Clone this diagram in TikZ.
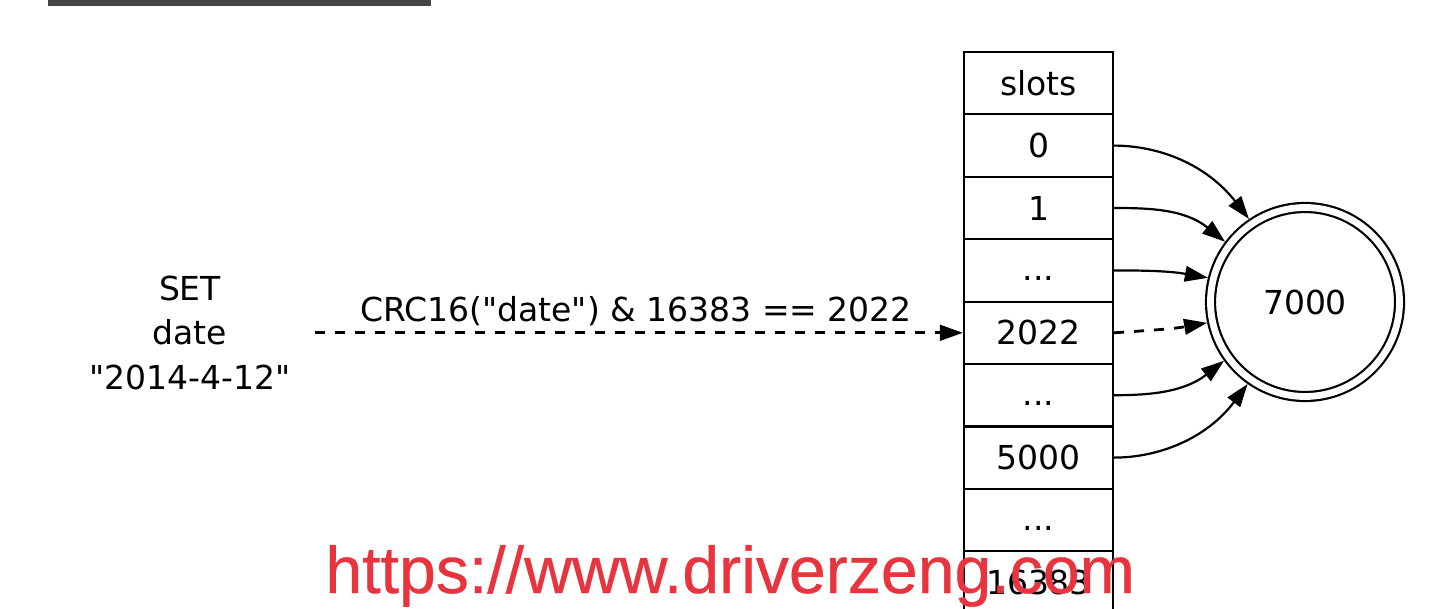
\documentclass[tikz,border=0pt]{standalone}
\usepackage{graphicx}
\usepackage{fontspec}
\setmainfont{DejaVu Sans}[Ligatures=TeXOff]
\newfontfamily\wmfont{Liberation Sans}[FakeBold=0.5]
\usetikzlibrary{arrows.meta}
\definecolor{wmred}{RGB}{232,52,62}
\definecolor{bargray}{RGB}{68,68,68}
\newcommand{\dq}{\char34\relax}
\newcommand{\dotsrow}{\raisebox{0.8pt}{...}\vphantom{0}}
\begin{document}
\begin{tikzpicture}[x=0.5pt,y=0.5pt,
  txt/.style={font=\fontsize{16.5}{22.3}\selectfont},
  slot/.style={txt,draw,line width=1.1pt,minimum width=74.5pt,minimum height=31.2pt,inner sep=0pt},
  link/.style={line width=1.1pt,-{Triangle[length=11.5pt,width=7.8pt]}},
  dlink/.style={link,line width=1.4pt,dash pattern=on 5pt off 5pt},
  curvy/.style={out looseness=0.75,in looseness=1.15}]
\useasboundingbox (0,0) rectangle (1454,-609);
\clip (0,0) rectangle (1454,-609);
\fill[bargray] (48,0) rectangle (431,-6);
% slot table
\node[slot] (r0) at (1038.5,-83.2) {slots};
\node[slot] (r1) at (1038.5,-145.6) {0};
\node[slot] (r2) at (1038.5,-208) {1};
\node[slot] (r3) at (1038.5,-270.4) {\dotsrow};
\node[slot] (r4) at (1038.5,-332.8) {2022};
\node[slot] (r5) at (1038.5,-395.2) {\dotsrow};
\node[slot] (r6) at (1038.5,-457.6) {5000};
\node[slot] (r7) at (1038.5,-520) {\dotsrow};
\node[slot] (r8) at (1038.5,-582.4) {16383};
% node 7000
\node[txt,draw,circle,double,double distance=3.4pt,line width=1.1pt,minimum size=94.5pt,inner sep=0pt,outer sep=2.8pt] (c) at (1305,-302) {7000};
\draw[link,curvy] (r1.east) to[out=0,in=128] (c.124);
\draw[link,curvy] (r2.east) to[out=0,in=141] (c.143);
\draw[link] (r3.east) to[out=0,in=170] (c.166);
\draw[dlink] (r4.east) to[out=4,in=190] (c.192);
\draw[link,curvy] (r5.east) to[out=0,in=218] (c.216);
\draw[link,curvy] (r6.east) to[out=0,in=233] (c.235);
% command
\node[txt,align=center,inner xsep=12pt] (cmd) at (190,-332.8) {SET\\date\\\dq2014-4-12\dq};
\draw[dlink] (cmd.east) -- node[txt,above,inner sep=3pt,xshift=-1.5pt] (lbl) {CRC16(\dq date\dq) \& 16383 == 2022} (r4.west);
% watermark
\node[anchor=base west,inner sep=0pt,text=wmred,font=\wmfont\fontsize{33.1}{33}\selectfont] (wm) at (325,-593) {https://www.driverzeng.com};
\end{tikzpicture}
\end{document}
